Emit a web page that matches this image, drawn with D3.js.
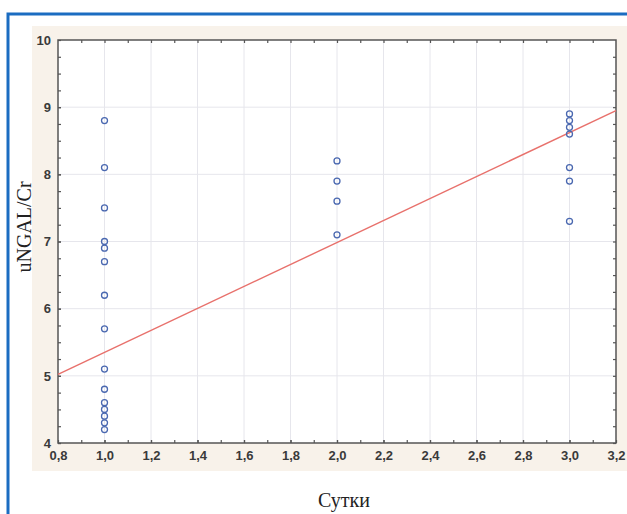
<!DOCTYPE html>
<html>
<head>
<meta charset="utf-8">
<script src="https://cdn.jsdelivr.net/npm/d3@7"></script>
<style>
  body { margin: 0; background: #fff; }
  svg { display: block; }
</style>
</head>
<body>
<svg></svg>
<script>
var width = 627, height = 514;

// data
var days = [1, 1, 1, 1, 1, 1, 1, 1, 1, 1, 1, 1, 1, 1, 1,
            2, 2, 2, 2,
            3, 3, 3, 3, 3, 3, 3];
var ratios = [8.8, 8.1, 7.5, 7.0, 6.9, 6.7, 6.2, 5.7, 5.1, 4.8, 4.6, 4.5, 4.4, 4.3, 4.2,
              8.2, 7.9, 7.6, 7.1,
              8.9, 8.8, 8.7, 8.6, 8.1, 7.9, 7.3];
var fitX = [0.8, 3.2];
var fitY = [5.02, 8.95];
var xTicks = [0.8, 1.0, 1.2, 1.4, 1.6, 1.8, 2.0, 2.2, 2.4, 2.6, 2.8, 3.0, 3.2];
var yTicks = [4, 5, 6, 7, 8, 9, 10];

var points = days.map((d, i) => ({x: d, y: ratios[i]}));
var fit = fitX.map((d, i) => ({x: d, y: fitY[i]}));

var plotL = 58, plotR = 616, plotT = 40, plotB = 443;

var x = d3.scaleLinear().domain([0.8, 3.2]).range([plotL, plotR]);
var y = d3.scaleLinear().domain([4, 10]).range([plotB, plotT]);

var comma = d => d3.format('.1f')(d).replace('.', ',');

var svg = d3.select('svg')
    .attr('width', width)
    .attr('height', height);

// blue frame
svg.append('path')
    .attr('d', `M8,${height + 5} L8,14 L${width + 5},14`)
    .attr('fill', 'none')
    .attr('stroke', '#1b6cc1')
    .attr('stroke-width', 3);

// beige panel
svg.append('rect')
    .attr('x', 32).attr('y', 26)
    .attr('width', width - 32).attr('height', 445)
    .attr('fill', '#f8f2ea');

svg.append('rect')
    .attr('x', plotL).attr('y', plotT)
    .attr('width', plotR - plotL).attr('height', plotB - plotT)
    .attr('fill', '#fff');

// grid
svg.append('g')
    .selectAll('line')
    .data(xTicks.slice(1, -1))
    .join('line')
        .attr('x1', d => x(d)).attr('x2', d => x(d))
        .attr('y1', plotT).attr('y2', plotB)
        .attr('stroke', '#e6e6ec');

svg.append('g')
    .selectAll('line')
    .data(yTicks.slice(1, -1))
    .join('line')
        .attr('x1', plotL).attr('x2', plotR)
        .attr('y1', d => y(d)).attr('y2', d => y(d))
        .attr('stroke', '#e6e6ec');

// axes, ticks point inward
var tickStyle = g => {
    g.select('.domain').remove();
    g.selectAll('.tick line').attr('stroke', '#555').attr('stroke-width', 1.2);
    g.selectAll('.tick text')
        .attr('fill', '#3a3a3a')
        .style('font-family', 'Arial, "Liberation Sans", sans-serif')
        .style('font-size', '13px')
        .style('font-weight', 'bold');
};

var minorX = d3.range(9, 32, 1).map(d => d / 10);
var minorY = d3.range(16, 40, 1).map(d => d / 4);

svg.append('g')
    .attr('transform', `translate(0,${plotB})`)
    .call(d3.axisBottom(x).tickValues(xTicks).tickFormat(comma).tickSizeInner(-3).tickSizeOuter(0).tickPadding(8))
    .call(tickStyle);

svg.append('g')
    .attr('transform', `translate(${plotL},0)`)
    .call(d3.axisLeft(y).tickValues(yTicks).tickFormat(d3.format('d')).tickSizeInner(-3).tickSizeOuter(0).tickPadding(7))
    .call(tickStyle)
    .selectAll('.tick text').attr('dy', '0.32em');

svg.append('g')
    .attr('transform', `translate(0,${plotT})`)
    .call(d3.axisTop(x).tickValues(minorX).tickFormat('').tickSizeInner(-3).tickSizeOuter(0))
    .call(tickStyle);

svg.append('g')
    .attr('transform', `translate(0,${plotB})`)
    .call(d3.axisBottom(x).tickValues(minorX).tickFormat('').tickSizeInner(-3).tickSizeOuter(0))
    .call(tickStyle);

svg.append('g')
    .attr('transform', `translate(${plotL},0)`)
    .call(d3.axisLeft(y).tickValues(minorY).tickFormat('').tickSizeInner(-3).tickSizeOuter(0))
    .call(tickStyle);

svg.append('g')
    .attr('transform', `translate(${plotR},0)`)
    .call(d3.axisRight(y).tickValues(minorY).tickFormat('').tickSizeInner(-3).tickSizeOuter(0))
    .call(tickStyle);

// plot frame
svg.append('rect')
    .attr('x', plotL).attr('y', plotT)
    .attr('width', plotR - plotL).attr('height', plotB - plotT)
    .attr('fill', 'none')
    .attr('stroke', '#555')
    .attr('stroke-width', 1.5);

// regression line
var line = d3.line().x(d => x(d.x)).y(d => y(d.y));
svg.append('path')
    .datum(fit)
    .attr('d', line)
    .attr('fill', 'none')
    .attr('stroke', '#e8716c')
    .attr('stroke-width', 1.4);

// points
svg.append('g')
    .selectAll('circle')
    .data(points)
    .join('circle')
        .attr('cx', d => x(d.x))
        .attr('cy', d => y(d.y))
        .attr('r', 3)
        .attr('fill', 'none')
        .attr('stroke', '#4a68b0')
        .attr('stroke-width', 1.3);

// axis titles
svg.append('text')
    .attr('transform', 'translate(31,227) rotate(-90)')
    .attr('text-anchor', 'middle')
    .style('font-family', '"Liberation Serif", "DejaVu Serif", serif')
    .style('font-size', '20px')
    .attr('fill', '#222')
    .text('uNGAL/Cr');

svg.append('text')
    .attr('x', 344).attr('y', 507)
    .attr('text-anchor', 'middle')
    .style('font-family', '"Liberation Serif", "DejaVu Serif", serif')
    .style('font-size', '20px')
    .attr('fill', '#222')
    .text('Сутки');
</script>
</body>
</html>
